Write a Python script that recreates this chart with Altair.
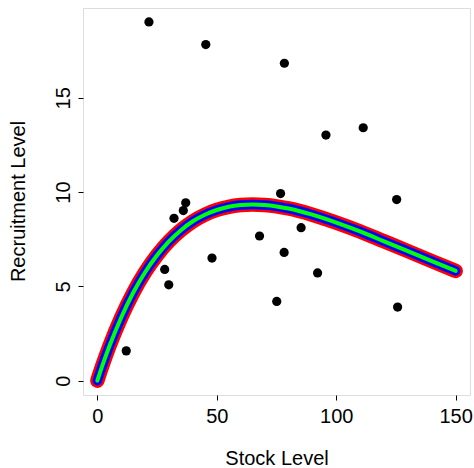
import altair as alt
import pandas as pd

stock = [21.6, 45.4, 78.3, 95.7, 111.3, 76.7, 125.3, 37.0, 36.0, 32.1,
         85.3, 67.9, 28.2, 29.9, 48.0, 78.2, 92.2, 75.1, 125.7, 12.1]
recruit = [19.02, 17.82, 16.83, 13.02, 13.41, 9.92, 9.60, 9.43, 9.02, 8.61,
           8.11, 7.67, 5.90, 5.08, 6.50, 6.80, 5.71, 4.20, 3.90, 1.58]

# Fitted curve values
curve_s = [0, 2.5, 5, 10, 15, 20, 25, 30, 35, 40, 45, 50, 55, 60, 65, 70,
           75, 80, 90, 100, 110, 120, 130, 140, 150]
curve_r = [0.0, 0.94, 1.81, 3.35, 4.66, 5.75, 6.65, 7.39, 7.98, 8.45, 8.80,
           9.05, 9.22, 9.31, 9.34, 9.31, 9.24, 9.13, 8.80, 8.38, 7.91, 7.39,
           6.87, 6.34, 5.82]

x_ticks = [0, 50, 100, 150]
y_ticks = [0, 5, 10, 15]

pts = pd.DataFrame({"stock": stock, "recruit": recruit})
crv = pd.DataFrame({"stock": curve_s, "recruit": curve_r})

FONT = "Liberation Sans"

xs = alt.Scale(domain=[-6, 156], nice=False, zero=False)
ys = alt.Scale(domain=[-0.76, 19.76], nice=False, zero=False)

x_axis = alt.Axis(values=x_ticks, title="Stock Level", grid=False, domain=False,
                  tickColor="black", tickSize=5, labelFontSize=20, labelFont=FONT,
                  labelColor="black", labelPadding=6, titleFont=FONT,
                  titleFontSize=20, titleFontWeight="normal", titleColor="black",
                  titleY=63, titleBaseline="middle")
y_axis = alt.Axis(values=y_ticks, title="Recruitment Level", grid=False, domain=False,
                  tickColor="black", tickSize=5, labelFontSize=20, labelFont=FONT,
                  labelColor="black", labelAngle=270, labelAlign="center",
                  labelBaseline="bottom", labelPadding=5, titleFont=FONT,
                  titleFontSize=20, titleFontWeight="normal", titleColor="black",
                  titleAngle=270, titleX=-65, titleY=193, titleAlign="center",
                  titleBaseline="middle")

points = alt.Chart(pts).mark_circle(size=85, color="black", opacity=1).encode(
    x=alt.X("stock:Q", scale=xs, axis=x_axis),
    y=alt.Y("recruit:Q", scale=ys, axis=y_axis),
)

def curve(color, width):
    return alt.Chart(crv).mark_line(color=color, strokeWidth=width, strokeCap="round",
                                    strokeJoin="round", interpolate="monotone").encode(
        x=alt.X("stock:Q", scale=xs),
        y=alt.Y("recruit:Q", scale=ys),
    )

chart = alt.layer(points, curve("#FF0000", 14.5), curve("#0000FF", 9.5), curve("#00FF00", 4)).properties(
    width=387, height=387,
    autosize=alt.AutoSizeParams(type="none"),
    padding={"left": 83, "top": 8, "right": 4, "bottom": 73},
).configure_view(stroke="black", strokeWidth=1.2).configure(background="white")

chart.save("out.html", embed_options={"renderer": "svg", "actions": False})
